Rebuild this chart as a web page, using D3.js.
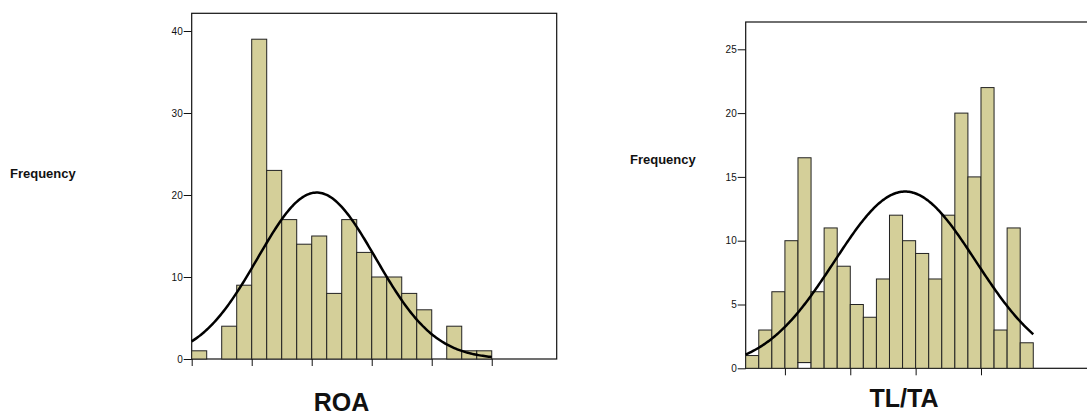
<!DOCTYPE html>
<html>
<head>
<meta charset="utf-8">
<script src="https://cdn.jsdelivr.net/npm/d3@7"></script>
<style>
  html, body { margin: 0; padding: 0; background: #fff; }
  svg { display: block; font-family: "Liberation Sans", Arial, sans-serif; }
</style>
</head>
<body>
<svg id="chart" width="1087" height="412"></svg>
<script>
// ---------- data ----------
// ROA histogram: counts per bin (20 bins)
const roaCounts = [1, 0, 4, 9, 39, 23, 17, 14, 15, 8, 17, 13, 10, 10, 8, 6, 0, 4, 1, 1];
const roaYTicks = [0, 10, 20, 30, 40];
const roaXTicks = [0, 4, 8, 12, 16, 20];       // bin-edge positions of x ticks (unlabelled)
const roaNormal = [20.3, 8.33, 3.93];          // normal curve: peak height, mean (bins), sd (bins)

// TL/TA histogram: counts per bin (22 bins)
const tltaCounts = [1, 3, 6, 10, 16.5, 6, 11, 8, 5, 4, 7, 12, 10, 9, 7, 12, 20, 15, 22, 3, 11, 2];
const tltaBases  = [0, 0, 0, 0, 0.45, 0, 0, 0, 0, 0, 0, 0, 0, 0, 0, 0, 0, 0, 0, 0, 0, 0];
const tltaYTicks = [0, 5, 10, 15, 20, 25];
const tltaXTicks = [3, 8, 13, 18];
const tltaNormal = [13.85, 12.2, 5.4];

const titles = ["ROA", "TL/TA"];
const yTitle = "Frequency";

// ---------- drawing ----------
const svg = d3.select("#chart");
const FILL = "#d4cf99";

function drawPanel(cfg) {
  const g = svg.append("g");
  const x = d3.scaleLinear().domain(cfg.xDomain).range([cfg.left, cfg.right]);
  const y = d3.scaleLinear().domain(cfg.yDomain).range([cfg.bottom, cfg.top]);

  // frame
  g.append("rect")
    .attr("x", cfg.left).attr("y", cfg.top)
    .attr("width", cfg.right - cfg.left).attr("height", cfg.bottom - cfg.top)
    .attr("fill", "none").attr("stroke", "#111").attr("stroke-width", 1.2);

  // bars
  cfg.counts.forEach((c, i) => {
    const base = cfg.bases ? cfg.bases[i] : 0;
    if (c <= 0) return;
    if (base > 0) {
      g.append("rect")
        .attr("x", x(i)).attr("y", y(base))
        .attr("width", x(i + 1) - x(i)).attr("height", y(0) - y(base))
        .attr("fill", "#fff").attr("stroke", "#222").attr("stroke-width", 1);
    }
    g.append("rect")
      .attr("x", x(i)).attr("y", y(c))
      .attr("width", x(i + 1) - x(i)).attr("height", y(base) - y(c))
      .attr("fill", FILL).attr("stroke", "#222").attr("stroke-width", 1);
  });

  // normal curve
  const [amp, mu, sd] = cfg.normal;
  const pts = d3.range(0, cfg.counts.length + 0.0001, 0.1)
    .map(v => [v, amp * Math.exp(-0.5 * ((v - mu) / sd) ** 2)]);
  g.append("path")
    .attr("d", d3.line().x(d => x(d[0])).y(d => y(d[1]))(pts))
    .attr("fill", "none").attr("stroke", "#000").attr("stroke-width", 2.5);

  // y axis
  const ya = g.append("g").attr("transform", `translate(${cfg.left},0)`)
    .call(d3.axisLeft(y).tickValues(cfg.yTicks).tickSize(8).tickPadding(1).tickFormat(d3.format("d")));
  ya.select(".domain").remove();
  ya.selectAll("line").attr("stroke", "#111");
  ya.selectAll("text").attr("font-size", 10).attr("fill", "#111")
    .attr("font-family", "'Liberation Sans', Arial, sans-serif");

  // x axis (unlabelled ticks)
  const xa = g.append("g").attr("transform", `translate(0,${cfg.bottom})`)
    .call(d3.axisBottom(x).tickValues(cfg.xTicks).tickSize(7).tickFormat(""));
  xa.select(".domain").remove();
  xa.selectAll("line").attr("stroke", "#111");

  // titles
  g.append("text").attr("x", cfg.freqX).attr("y", cfg.freqY)
    .attr("font-size", 13).attr("font-weight", "bold").attr("fill", "#111")
    .text(yTitle);
  g.append("text").attr("x", cfg.titleX).attr("y", cfg.titleY)
    .attr("text-anchor", "middle")
    .attr("font-size", 25).attr("font-weight", "bold").attr("fill", "#111")
    .text(cfg.title);
}

drawPanel({
  counts: roaCounts, normal: roaNormal, yTicks: roaYTicks, xTicks: roaXTicks,
  xDomain: [0, 24.33], yDomain: [0, 42.16],
  left: 191.7, right: 556.7, top: 13.3, bottom: 359,
  freqX: 10, freqY: 178.3, titleX: 341.5, titleY: 411, title: titles[0]
});

drawPanel({
  counts: tltaCounts, bases: tltaBases, normal: tltaNormal, yTicks: tltaYTicks, xTicks: tltaXTicks,
  xDomain: [0, 27.87], yDomain: [0, 27.14],
  left: 745.7, right: 1110, top: 22, bottom: 368.3,
  freqX: 630, freqY: 164, titleX: 904, titleY: 406.7, title: titles[1]
});
</script>
</body>
</html>
